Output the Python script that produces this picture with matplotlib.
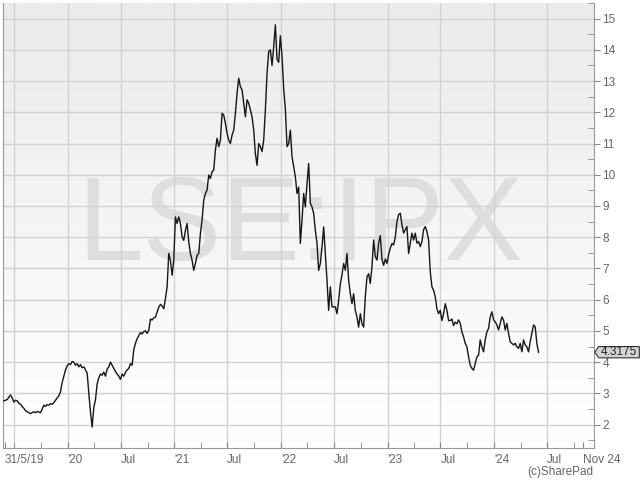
import numpy as np
import pandas as pd
import matplotlib
matplotlib.use("Agg")
import matplotlib.pyplot as plt
import matplotlib.dates as mdates
from matplotlib.colors import LinearSegmentedColormap
from matplotlib.patches import Polygon
from matplotlib.ticker import MultipleLocator

plt.rcParams["font.family"] = ["Liberation Sans", "DejaVu Sans"]

# share price, evenly spaced samples (GBP)
price_2019_2020 = [
    2.76, 2.78, 2.80, 2.88, 2.95, 2.85, 2.72, 2.78, 2.76, 2.68,
    2.65, 2.58, 2.52, 2.45, 2.41, 2.38, 2.35, 2.38, 2.41, 2.38,
    2.42, 2.40, 2.38, 2.50, 2.62, 2.58, 2.64, 2.62, 2.67, 2.65,
    2.70, 2.78, 2.85, 2.92, 3.05, 3.35, 3.55, 3.75, 3.88, 3.95,
    3.92, 4.02, 4.00, 3.90, 3.95, 3.85, 3.92, 3.82, 3.85, 3.75,
    3.65, 3.00, 2.40, 1.92, 2.55, 2.80, 3.30, 3.50, 3.62, 3.58,
    3.68, 3.55, 3.78, 3.85, 4.00, 3.90, 3.80, 3.70, 3.62, 3.55,
    3.45, 3.62, 3.55, 3.68, 3.75, 3.80, 3.95, 3.90, 4.40, 4.60,
    4.75, 4.85, 4.95, 4.90, 4.98, 5.00, 4.92, 5.02,
]
price_2020_2021 = [
    5.38, 5.35, 5.42, 5.44, 5.60, 5.76, 5.85, 5.80, 5.71, 6.03,
    6.41, 7.48, 7.26, 6.78, 7.26, 8.65, 8.44, 8.65, 8.44, 8.01,
    7.90, 8.22, 8.44, 7.85, 7.48, 7.26, 6.94, 7.16, 7.42, 7.48,
    8.12, 8.55, 9.19, 9.40, 9.51, 9.99, 9.88, 10.10, 10.15, 10.79,
    11.17, 10.90, 11.11, 11.97, 11.91, 11.65, 11.33, 11.11, 11.00, 11.27,
    11.43, 11.97, 12.61, 13.09, 12.82, 12.72, 12.29, 11.86, 12.40, 12.29,
    12.07, 11.86, 11.43, 10.68, 10.30, 11.00, 10.90, 10.74, 11.11, 12.07,
    13.25,
]
price_2021_2022 = [
    13.95, 14.00, 13.50, 14.10, 14.80, 13.70, 13.60, 14.45, 13.79, 12.75,
    12.10, 10.90, 11.00, 11.43, 10.58, 10.26, 9.94, 9.40, 9.61, 7.80,
    8.55, 9.40, 8.97, 9.72, 10.36, 9.08, 8.97, 8.76, 8.22, 7.80,
    6.94, 7.16, 7.69, 8.33, 7.48, 6.62, 5.66, 6.41, 5.77, 5.77,
    5.77, 5.55, 5.98, 6.50, 6.80, 7.16, 6.94, 7.48, 6.62, 6.19,
    5.87, 6.19, 5.66, 5.44, 5.12, 5.55, 5.23, 5.12, 6.09, 6.73,
    6.83,
]
price_2022_2023 = [
    6.52, 7.05, 7.91, 7.38, 7.27, 7.81, 8.05, 7.30, 7.10, 7.30,
    7.16, 7.45, 7.65, 7.80, 7.75, 8.00, 8.50, 8.72, 8.77, 8.40,
    8.13, 8.24, 8.34, 7.48, 7.81, 8.13, 7.91, 8.13, 7.81, 7.86,
    7.70, 7.86, 8.24, 8.34, 8.18, 7.91, 6.90, 6.41, 6.30, 6.09,
    5.71, 5.55, 5.66, 5.33, 5.55, 5.87, 5.66, 5.33, 5.33, 5.38,
    5.17, 5.28, 5.23,
]
price_2023_2024 = [
    5.35, 5.24, 4.97, 4.81, 4.60, 4.49, 4.17, 3.90, 3.80, 3.74,
    3.96, 4.17, 4.22, 4.71, 4.49, 4.33, 4.71, 4.97, 5.08, 5.45,
    5.61, 5.35, 5.29, 5.19, 5.03, 5.24, 5.45, 5.35, 5.03, 5.24,
    4.92, 4.65, 4.60, 4.55, 4.60, 4.49, 4.44, 4.60, 4.33, 4.71,
    4.55, 4.49, 4.33, 4.65, 4.92, 5.19, 5.13, 4.60, 4.3175,
]
first_date = "2019-05-28"
last_date = "2024-06-01"

tick_dates = ["2019-05-31", "2020-01-01", "2020-07-01", "2021-01-01", "2021-07-01",
              "2022-01-01", "2022-07-01", "2023-01-01", "2023-07-01", "2024-01-01",
              "2024-07-01", "2024-11-01"]
tick_labels = ["31/5/19", "'20", "Jul", "'21", "Jul", "'22", "Jul", "'23", "Jul", "'24",
               "Jul", "Nov 24"]
grid_dates = ["2019-07-01", "2020-01-01", "2020-07-01", "2021-01-01", "2021-07-01",
              "2022-01-01", "2022-07-01", "2023-01-01", "2023-07-01", "2024-01-01",
              "2024-07-01"]

price = np.concatenate([price_2019_2020, price_2020_2021, price_2021_2022,
                        price_2022_2023, price_2023_2024])
dates = pd.date_range(first_date, last_date, periods=len(price))
last = price[-1]

fig = plt.figure(figsize=(6.4, 4.8), dpi=100)
ax = fig.add_axes([3 / 640, 32 / 480, 591 / 640, 445 / 480])

ax.plot(dates, price, color="#161616", lw=1.0, zorder=3)

# light grey gradient background
grad = np.linspace(0, 1, 256).reshape(-1, 1)
cmap = LinearSegmentedColormap.from_list("bg", ["#ebebeb", "#ffffff"])
ax.imshow(grad, cmap=cmap, extent=[0, 1, 0, 1], transform=ax.transAxes,
          aspect="auto", origin="upper", zorder=0)

ax.text(0.5025, 0.4225, "LSE:IPX", transform=ax.transAxes, ha="center",
        va="baseline", fontsize=85, color="#dedede", zorder=0.3)

for d in pd.to_datetime(grid_dates):
    ax.axvline(d, color="#d2d2d2", lw=1, zorder=0.5)
for v in range(2, 16):
    ax.axhline(v, color="#d2d2d2", lw=1, zorder=0.5)

ax.set_xlim(pd.Timestamp("2019-05-25"), pd.Timestamp("2024-12-08"))
ax.set_ylim(1.25, 15.5)

ax.yaxis.tick_right()
ax.set_yticks(range(2, 16))
ax.yaxis.set_minor_locator(MultipleLocator(0.5))
ax.tick_params(axis="y", which="major", direction="out", length=4, color="#888888",
               labelcolor="#666666", labelsize=8.5, pad=2)
ax.tick_params(axis="y", which="minor", direction="in", length=4, color="#888888")

ax.set_xticks(pd.to_datetime(tick_dates))
ax.set_xticklabels(tick_labels, ha="left")
ax.xaxis.set_minor_locator(mdates.MonthLocator(bymonth=[1, 4, 7, 10]))
ax.tick_params(axis="x", which="both", direction="in", length=4, color="#888888",
               labelcolor="#666666", labelsize=8.5, pad=4)

for side in ["left", "right", "bottom"]:
    ax.spines[side].set_color("#999999")
ax.spines["top"].set_visible(False)

# last price tag
tr = ax.get_yaxis_transform()
h = 0.18
tag = Polygon([(1.0012, last), (1.0079, last + h), (1.0767, last + h),
               (1.0767, last - h), (1.0079, last - h)], closed=True, transform=tr,
              facecolor="#d4d4d4", edgecolor="#333333", lw=0.8, clip_on=False, zorder=5)
ax.add_patch(tag)
ax.text(1.0415, last, f"{last:.4f}", transform=tr, ha="center", va="center",
        fontsize=8.5, color="#222222", clip_on=False, zorder=6)

fig.text(593 / 640, 1 - 472 / 480, "(c)SharePad", ha="right", va="center",
         fontsize=8.5, color="#666666")

fig.savefig("out.png", dpi=100)
